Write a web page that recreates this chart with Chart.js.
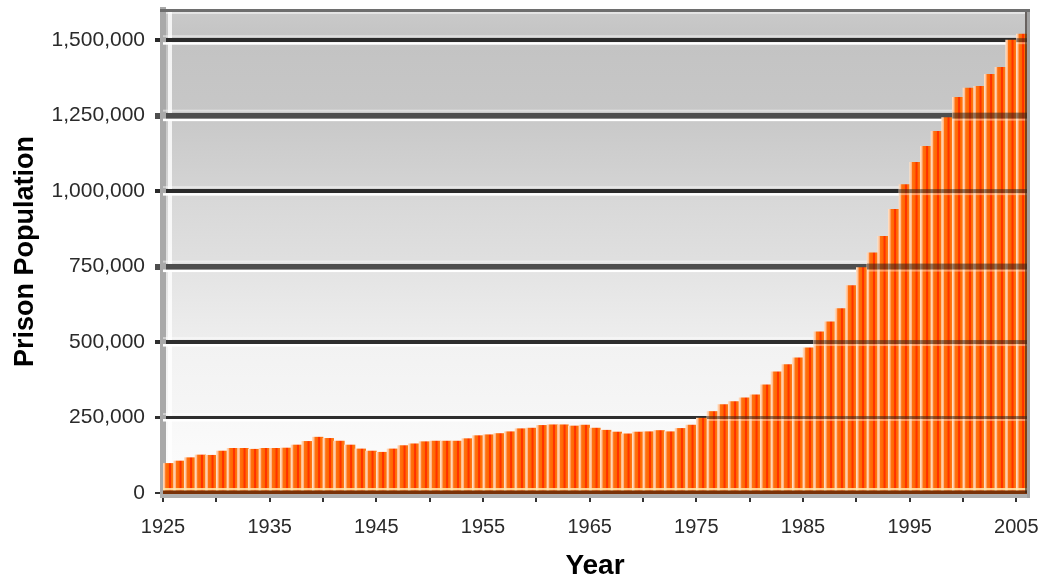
<!DOCTYPE html>
<html>
<head>
<meta charset="utf-8">
<title>Prison Population by Year</title>
<script src="https://cdn.jsdelivr.net/npm/chart.js@4.4.1/dist/chart.umd.min.js"></script>
<style>
  html, body { margin: 0; padding: 0; background: #ffffff; }
  #wrap { width: 1050px; height: 580px; }
</style>
</head>
<body>
<div id="wrap"><canvas id="chart" width="1050" height="580"></canvas></div>
<script>
// ---- data ----
const years = [
  1925, 1926, 1927, 1928, 1929, 1930, 1931, 1932, 1933, 1934,
  1935, 1936, 1937, 1938, 1939, 1940, 1941, 1942, 1943, 1944,
  1945, 1946, 1947, 1948, 1949, 1950, 1951, 1952, 1953, 1954,
  1955, 1956, 1957, 1958, 1959, 1960, 1961, 1962, 1963, 1964,
  1965, 1966, 1967, 1968, 1969, 1970, 1971, 1972, 1973, 1974,
  1975, 1976, 1977, 1978, 1979, 1980, 1981, 1982, 1983, 1984,
  1985, 1986, 1987, 1988, 1989, 1990, 1991, 1992, 1993, 1994,
  1995, 1996, 1997, 1998, 1999, 2000, 2001, 2002, 2003, 2004,
  2005
];

const population = [
    98000,  106000,  117000,  126000,  125000,  139000,  148000,  148000,  145000,  148000,
   148000,  149000,  159000,  171000,  185000,  181000,  172000,  159000,  146000,  139000,
   135000,  146000,  157000,  163000,  170000,  172000,  172000,  172000,  180000,  190000,
   193000,  197000,  203000,  213000,  215000,  224000,  226000,  226000,  222000,  225000,
   215000,  208000,  202000,  196000,  202000,  203000,  207000,  203000,  214000,  225000,
   248000,  270000,  293000,  303000,  315000,  325000,  358000,  401000,  425000,  448000,
   481000,  534000,  567000,  611000,  687000,  747000,  796000,  850000,  940000, 1022000,
  1095000, 1148000, 1198000, 1244000, 1311000, 1341000, 1347000, 1387000, 1410000, 1500000,
  1520000
];

const xTickYears  = [1925, 1930, 1935, 1940, 1945, 1950, 1955, 1960, 1965, 1970, 1975, 1980, 1985, 1990, 1995, 2000, 2005];
const xLabelYears = [1925, 1935, 1945, 1955, 1965, 1975, 1985, 1995, 2005];
const yTickValues = [0, 250000, 500000, 750000, 1000000, 1250000, 1500000];
const yMax = 1600000;

// ---- styling ----
const FONT = "'Liberation Sans', Arial, sans-serif";

// shading of the plot background, one band per gridline interval (bottom -> top): [top colour, bottom colour]
const bandShades = [
  ['#f8f8f8', '#fdfdfd'],
  ['#f2f2f2', '#f6f6f6'],
  ['#e3e3e3', '#eeeeee'],
  ['#d7d7d7', '#e0e0e0'],
  ['#c8c8c8', '#d4d4d4'],
  ['#c3c3c3', '#c7c7c7'],
  ['#cacaca', '#c3c3c3']
];
// gridline look per y tick
const gridColors = ['#333333', '#2e2e2e', '#2e2e2e', '#4e4e4e', '#2a2a2a', '#4e4e4e', '#2a2a2a'];
const gridWidths = [2, 3, 4, 6, 4, 6, 4];

// each bar gets a horizontal shaded fill: pale edge, orange body, red core
function barFill(ctx) {
  const chart = ctx.chart;
  const xs = chart.scales && chart.scales.x;
  if (ctx.type !== 'data' || !xs || !chart.chartArea) return '#ff6600';
  const yr = years[ctx.dataIndex];
  const x0 = xs.getPixelForValue(yr);
  const x1 = xs.getPixelForValue(yr + 1);
  const g = chart.ctx.createLinearGradient(x0, 0, x1, 0);
  g.addColorStop(0.00, '#ffe0c6');
  g.addColorStop(0.17, '#ffb888');
  g.addColorStop(0.25, '#ff7212');
  g.addColorStop(0.52, '#ff6600');
  g.addColorStop(0.58, '#ff3400');
  g.addColorStop(0.70, '#ff3000');
  g.addColorStop(0.77, '#ff6a00');
  g.addColorStop(1.00, '#ff7a1e');
  return g;
}

const frameDecor = {
  id: 'frameDecor',
  beforeDraw(chart) {
    const { ctx, chartArea: a, scales: { y } } = chart;
    ctx.save();
    const edges = yTickValues.map(v => y.getPixelForValue(v)).concat([a.top]);
    for (let i = 0; i < bandShades.length; i++) {
      const yb = edges[i], yt = edges[i + 1];
      const g = ctx.createLinearGradient(0, yt, 0, yb);
      g.addColorStop(0, bandShades[i][0]);
      g.addColorStop(1, bandShades[i][1]);
      ctx.fillStyle = g;
      ctx.fillRect(a.left, yt, a.right - a.left, yb - yt);
    }
    // light inner edge along the value axis
    ctx.fillStyle = 'rgba(255,255,255,0.8)';
    ctx.fillRect(a.left + 5, a.top + 2, 4, a.bottom - a.top - 2);
    ctx.restore();
  },
  beforeDatasetsDraw(chart) {
    const { ctx, chartArea: a, scales: { y } } = chart;
    ctx.save();
    yTickValues.forEach((v, i) => {
      if (i === 0) return;
      const py = y.getPixelForValue(v);
      const hw = gridWidths[i] / 2;
      ctx.fillStyle = '#ffffff';
      ctx.fillRect(a.left, py + hw, a.right - a.left, 2.5);
      ctx.fillStyle = 'rgba(255,255,255,0.45)';
      ctx.fillRect(a.left, py - hw - 3, a.right - a.left, 2);
    });
    ctx.restore();
  },
  afterDatasetsDraw(chart) {
    const { ctx, chartArea: a, scales: { y } } = chart;
    const bars = chart.getDatasetMeta(0).data;
    ctx.save();
    // gridlines showing through the bars
    yTickValues.forEach((v, i) => {
      if (i === 0) return;
      const py = y.getPixelForValue(v);
      const lw = gridWidths[i];
      bars.forEach((bar, j) => {
        if (population[j] <= v) return;
        const left = bar.x - bar.width / 2;
        ctx.fillStyle = 'rgba(45,35,30,0.55)';
        ctx.fillRect(left, py - lw / 2, bar.width, lw);
        ctx.fillStyle = 'rgba(255,235,215,0.45)';
        ctx.fillRect(left, py + lw / 2, bar.width, 2);
      });
    });
    // base of the bars
    ctx.fillStyle = 'rgba(255,232,170,0.85)';
    ctx.fillRect(a.left, a.bottom - 5, a.right - a.left, 2.5);
    ctx.fillStyle = '#7a3208';
    ctx.fillRect(a.left, a.bottom - 2.5, a.right - a.left, 3.5);
    // category axis line
    ctx.fillStyle = '#b0b0b0';
    ctx.fillRect(a.left - 3, a.bottom + 1, a.right - a.left + 6, 4);
    // right edge of the plot
    ctx.fillStyle = 'rgba(40,30,25,0.6)';
    ctx.fillRect(a.right - 2, a.top, 2, a.bottom - a.top);
    ctx.fillStyle = '#a2a2a2';
    ctx.fillRect(a.right, a.top - 1, 3, a.bottom - a.top + 6);
    // top edge of the plot
    ctx.fillStyle = '#6e6e6e';
    ctx.fillRect(a.left - 3, a.top - 1, a.right - a.left + 6, 3);
    ctx.fillStyle = 'rgba(255,255,255,0.5)';
    ctx.fillRect(a.left + 3, a.top + 2, a.right - a.left - 5, 2);
    ctx.restore();
  }
};

new Chart(document.getElementById('chart'), {
  type: 'bar',
  data: {
    datasets: [{
      label: 'Prison Population',
      data: years.map((yr, i) => ({ x: yr + 0.5, y: population[i] })),
      backgroundColor: barFill,
      borderWidth: 0,
      barPercentage: 1.0,
      categoryPercentage: 1.0
    }]
  },
  options: {
    responsive: false,
    devicePixelRatio: 1,
    animation: false,
    layout: { padding: { top: 10, right: 23, bottom: 0, left: 0 } },
    plugins: {
      legend: { display: false },
      tooltip: { enabled: false }
    },
    scales: {
      x: {
        type: 'linear',
        min: 1925,
        max: 2006,
        offset: false,
        afterBuildTicks(scale) { scale.ticks = xTickYears.map(v => ({ value: v })); },
        afterFit(scale) { scale.height = 87; scale.paddingLeft = 0; scale.paddingRight = 0; },
        border: { display: false },
        grid: {
          offset: false,
          drawOnChartArea: false,
          drawTicks: true,
          tickLength: 9,
          color: '#333333',
          lineWidth: 2
        },
        ticks: {
          autoSkip: false,
          maxRotation: 0,
          minRotation: 0,
          padding: 13,
          color: '#2a2a2a',
          font: { family: FONT, size: 20 },
          callback: v => (xLabelYears.includes(v) ? String(v) : '')
        },
        title: {
          display: true,
          text: 'Year',
          color: '#000000',
          font: { family: FONT, size: 28, weight: 'bold', lineHeight: 1 },
          padding: { top: 0, bottom: 0 }
        }
      },
      y: {
        type: 'linear',
        min: 0,
        max: yMax,
        afterBuildTicks(scale) { scale.ticks = yTickValues.map(v => ({ value: v })); },
        afterFit(scale) { scale.width = 163; scale.paddingTop = 0; scale.paddingBottom = 0; },
        border: { display: true, color: '#a9a9a9', width: 6 },
        grid: {
          drawOnChartArea: true,
          drawTicks: true,
          tickLength: 8,
          color: c => gridColors[c.index] || '#2e2e2e',
          lineWidth: c => gridWidths[c.index] || 3
        },
        ticks: {
          padding: 10,
          color: '#2a2a2a',
          font: { family: FONT, size: 21 },
          callback: v => Number(v).toLocaleString('en-US')
        },
        title: {
          display: true,
          text: 'Prison Population',
          color: '#000000',
          font: { family: FONT, size: 27, weight: 'bold', lineHeight: 1 },
          padding: { top: 12, bottom: 0 }
        }
      }
    }
  },
  plugins: [frameDecor]
});
</script>
</body>
</html>
